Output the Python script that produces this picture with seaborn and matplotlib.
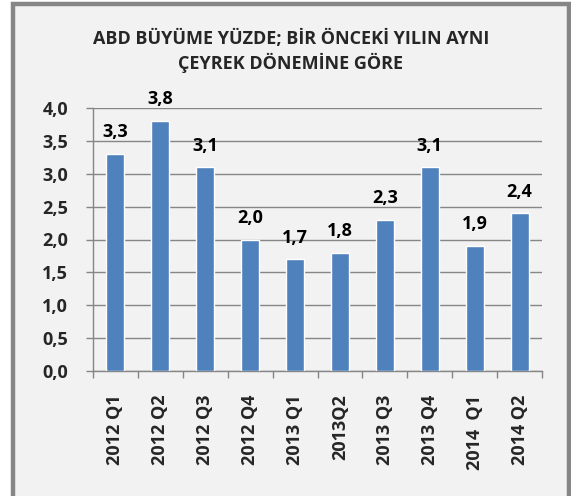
import numpy as np
import pandas as pd
import matplotlib
matplotlib.use('Agg')
import matplotlib.pyplot as plt
from matplotlib.patches import Rectangle
from matplotlib.ticker import FixedLocator, FuncFormatter
import seaborn as sns

# Data
quarters = ['2012 Q1', '2012 Q2', '2012 Q3', '2012 Q4', '2013 Q1',
            '2013Q2', '2013 Q3', '2013 Q4', '2014  Q1', '2014 Q2']
growth = [3.3, 3.8, 3.1, 2.0, 1.7, 1.8, 2.3, 3.1, 1.9, 2.4]
title_lines = ['ABD BÜYÜME YÜZDE; BİR ÖNCEKİ YILIN AYNI', 'ÇEYREK DÖNEMİNE GÖRE']

df = pd.DataFrame({'quarter': quarters, 'growth': growth})

sns.set_style('white')
plt.rcParams['font.family'] = ['Open Sans', 'DejaVu Sans']
plt.rcParams['font.weight'] = 'bold'

FS = 13
W, H = 571, 496
fig = plt.figure(figsize=(W / 100, H / 100), dpi=100)
fig.patch.set_facecolor('white')

# chart frame
frame = Rectangle((12.5 / W, -0.05), (569 - 12.5) / W, 1.05 - 4.5 / H,
                  transform=fig.transFigure, facecolor='#F2F2F2',
                  edgecolor='#868686', linewidth=3.2, zorder=-5)
fig.patches.append(frame)

ax = fig.add_axes([93 / W, (H - 371) / H, (542 - 93) / W, (371 - 108) / H])
ax.set_facecolor('none')
ax.set_zorder(2)

sns.barplot(data=df, x='quarter', y='growth', color='#4F81BD', saturation=1,
            width=0.4, ax=ax, zorder=3)

ax.set_ylim(0, 4)
ax.set_xlim(-0.5, len(quarters) - 0.5)
ax.set_yticks(np.arange(0, 4.01, 0.5))
ax.yaxis.set_major_formatter(FuncFormatter(lambda v, p: f'{v:.1f}'.replace('.', ',')))
ax.yaxis.grid(True, color='#868686', linewidth=1.0, zorder=0)
ax.set_axisbelow(True)

for s in ['top', 'right']:
    ax.spines[s].set_visible(False)
for s in ['left', 'bottom']:
    ax.spines[s].set_color('#868686')
    ax.spines[s].set_linewidth(1.0)

ax.tick_params(axis='y', direction='out', length=5, width=1.0, color='#868686',
               pad=13, labelsize=FS, left=True)
ax.xaxis.set_minor_locator(FixedLocator(np.arange(-0.5, len(quarters), 1.0)))
ax.tick_params(axis='x', which='minor', direction='out', length=5, width=1.0,
               color='#868686', bottom=True)
ax.tick_params(axis='x', which='major', length=0, pad=17, labelsize=FS)
for lab in ax.get_xticklabels():
    lab.set_rotation(90)
    lab.set_fontweight('bold')
for lab in ax.get_yticklabels():
    lab.set_fontweight('bold')
ax.set_xlabel('')
ax.set_ylabel('')

# value labels
for i, v in enumerate(growth):
    ax.annotate(f'{v:.1f}'.replace('.', ','), (i, v), xytext=(0, 12),
                textcoords='offset points', ha='center', va='baseline',
                fontsize=FS, fontweight='bold', color='black')

# title
fig.text(291 / W, 1 - 44 / H, title_lines[0], ha='center', va='baseline',
         fontsize=FS, fontweight='bold')
fig.text(291 / W, 1 - 69 / H, title_lines[1], ha='center', va='baseline',
         fontsize=FS, fontweight='bold')

plt.savefig('out.png', dpi=100, facecolor=fig.get_facecolor())
